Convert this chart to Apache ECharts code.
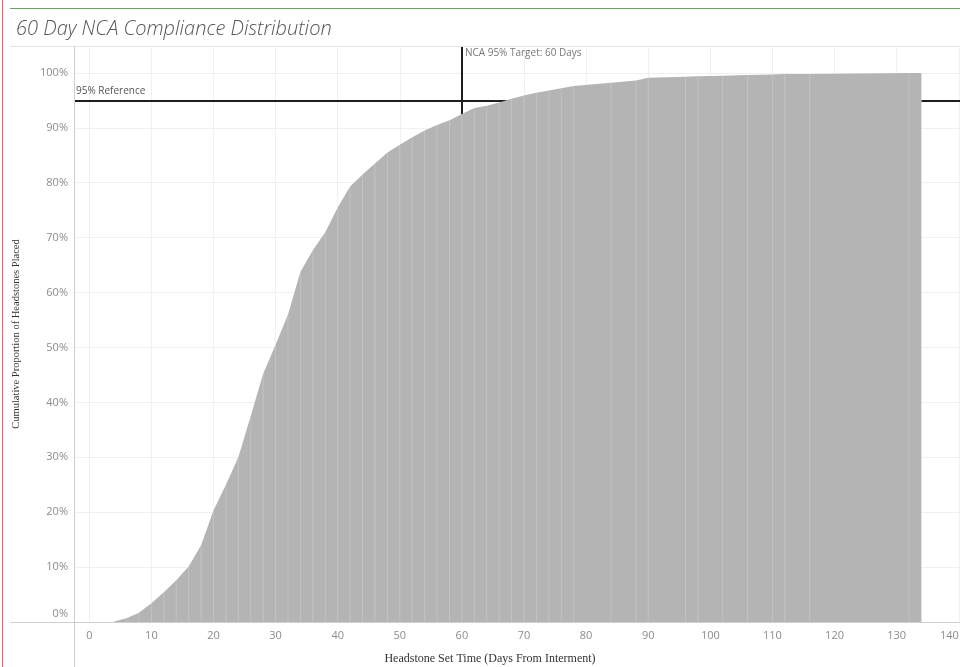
<!DOCTYPE html>
<html>
<head>
<meta charset="utf-8">
<script src="https://cdn.jsdelivr.net/npm/echarts@6/dist/echarts.min.js"></script>
<style>html,body{margin:0;padding:0;background:#fff;}#c{width:960px;height:667px;}</style>
</head>
<body>
<div id="c"></div>
<script>
// ---- data ----
const days = [4,6,8,10,12,14,16,18,20,22,24,26,28,30,32,34,36,38,40,42,44,46,48,50,52,54,56,58,60,62,
              64,66,68,70,72,74,76,78,84,88,90,96,98,102,106,110,112,116,132,134];
const cumPct = [0.1,0.7,1.7,3.4,5.4,7.6,10.1,14.0,20.3,25.0,30.0,37.5,45.2,50.5,56.0,63.8,67.7,71.0,75.5,79.3,
                81.5,83.5,85.5,86.9,88.3,89.5,90.5,91.4,92.5,93.6,
                94.0,94.6,95.3,95.9,96.4,96.8,97.2,97.6,98.2,98.6,99.1,99.3,99.4,99.5,99.6,99.7,99.8,99.8,100,100];
const xTicks = [0,10,20,30,40,50,60,70,80,90,100,110,120,130,140];
const yTicks = [0,10,20,30,40,50,60,70,80,90,100];
const refPct = 95;
const targetDay = 60;
const titleText = '60 Day NCA Compliance Distribution';
const xTitle = 'Headstone Set Time (Days From Interment)';
const yTitle = 'Cumulative Proportion of Headstones Placed';
const refLabel = '95% Reference';
const targetLabel = 'NCA 95% Target: 60 Days';

const pts = days.map((d, i) => [d, cumPct[i]]);
const chart = echarts.init(document.getElementById('c'), null, {renderer: 'canvas'});
const labelColor = '#8c8c8c';
const gridLeft = 74, gridTop = 46, gridBottom = 45;

chart.setOption({
  animation: false,
  backgroundColor: '#fff',
  title: {
    text: titleText, left: 11, top: 14, zlevel: 1,
    textStyle: {fontFamily: 'Open Sans', fontStyle: 'italic', fontWeight: 300, fontSize: 20, color: '#555'}
  },
  grid: {left: gridLeft, right: 0, top: gridTop, bottom: gridBottom, containLabel: false, outerBoundsMode: 'none'},
  xAxis: {
    type: 'value', min: -2.46, max: 140.2, zlevel: 1,
    axisLine: {show: false}, axisTick: {show: false}, splitLine: {show: false},
    axisLabel: {customValues: xTicks, color: labelColor, fontFamily: 'Open Sans', fontSize: 11, margin: 8,
                alignMaxLabel: 'right'}
  },
  yAxis: {
    type: 'value', min: 0, max: 104.9, zlevel: 1,
    axisLine: {show: false}, axisTick: {show: false}, splitLine: {show: false},
    name: yTitle, nameLocation: 'middle', nameGap: 52,
    nameTextStyle: {fontFamily: 'Liberation Serif', fontSize: 10.5, color: '#333'},
    axisLabel: {
      customValues: yTicks, color: labelColor, fontFamily: 'Open Sans', fontSize: 11, margin: 6,
      formatter: v => v === 0 ? '{z|0%}' : v + '%',
      rich: {z: {color: labelColor, fontFamily: 'Open Sans', fontSize: 11, padding: [0, 0, 16, 0]}}
    }
  },
  series: [
    { // grid lines (bottom layer)
      type: 'line', data: [], zlevel: 0, z: 0, silent: true,
      markLine: {
        symbol: 'none', silent: true, label: {show: false},
        lineStyle: {color: '#f0f0f0', width: 1, type: 'solid'},
        data: xTicks.map(v => ({xAxis: v})).concat(yTicks.slice(1).map(v => ({yAxis: v})))
      }
    },
    {
      type: 'line', data: pts, zlevel: 1, z: 2, showSymbol: false, symbol: 'none',
      lineStyle: {width: 0}, areaStyle: {color: '#b4b4b4', opacity: 1}
    },
    {
      type: 'bar', data: pts, zlevel: 1, z: 3, barWidth: 1,
      itemStyle: {color: 'rgba(255,255,255,0.2)'}
    },
    {
      type: 'line', data: [], zlevel: 1, z: 5, silent: true,
      markLine: {
        symbol: 'none', silent: true, label: {show: false},
        lineStyle: {color: '#1e1e1e', width: 2, type: 'solid'},
        data: [{yAxis: refPct}, {xAxis: targetDay}]
      }
    }
  ]
});

const p0 = chart.convertToPixel({gridIndex: 0}, [0, refPct]);
const pT = chart.convertToPixel({gridIndex: 0}, [targetDay, 0]);
const W = 960, H = 667;
const baseY = H - gridBottom;
chart.setOption({
  graphic: [
    {type: 'line', zlevel: 1, shape: {x1: 10, y1: 8.5, x2: W, y2: 8.5}, style: {stroke: '#6b9e6b', lineWidth: 1}},
    {type: 'line', zlevel: 1, shape: {x1: 2.5, y1: 0, x2: 2.5, y2: H}, style: {stroke: '#c86e6e', lineWidth: 1}},
    {type: 'line', zlevel: 1, shape: {x1: 10, y1: gridTop + 0.5, x2: W, y2: gridTop + 0.5}, style: {stroke: '#e4e4e4', lineWidth: 1}},
    {type: 'line', zlevel: 1, shape: {x1: 10, y1: baseY + 0.5, x2: W, y2: baseY + 0.5}, style: {stroke: '#cfcfcf', lineWidth: 1}, z: 10},
    {type: 'line', zlevel: 1, shape: {x1: gridLeft + 0.5, y1: gridTop, x2: gridLeft + 0.5, y2: H}, style: {stroke: '#cfcfcf', lineWidth: 1}, z: 10},
    {type: 'text', zlevel: 1, x: gridLeft + 2, y: p0[1] - 4, z: 10,
     style: {text: refLabel, fill: '#555', font: '10px "Open Sans"', textVerticalAlign: 'bottom', textAlign: 'left'}},
    {type: 'text', zlevel: 1, x: pT[0] + 3, y: gridTop + 2, z: 10,
     style: {text: targetLabel, fill: '#777', font: '10px "Open Sans"', textVerticalAlign: 'top', textAlign: 'left'}},
    {type: 'text', zlevel: 1, x: 490, y: H - 8, z: 10,
     style: {text: xTitle, fill: '#333', font: '12px "Liberation Serif"', textVerticalAlign: 'middle', textAlign: 'center'}}
  ]
});
</script>
</body>
</html>
